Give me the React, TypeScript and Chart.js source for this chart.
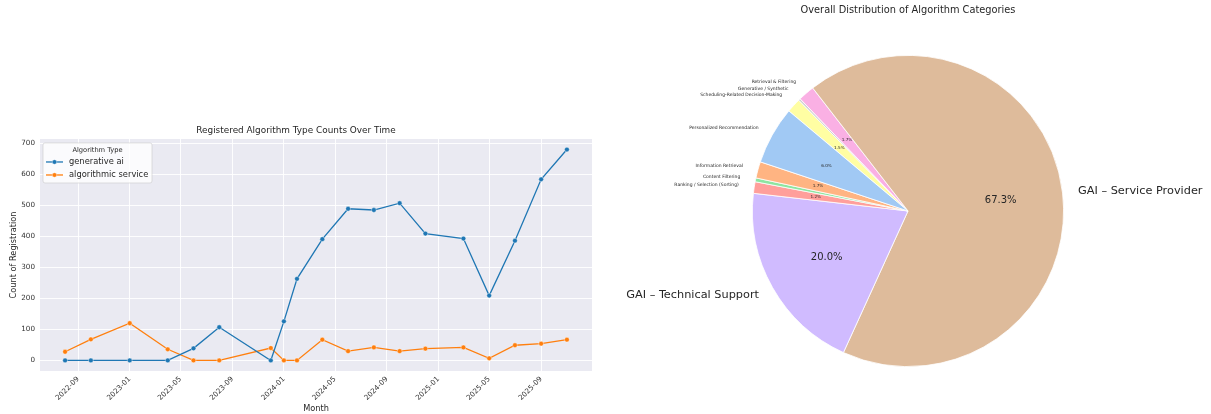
import React, { useEffect, useRef } from 'react';
import { Chart, registerables } from 'chart.js';

Chart.register(...registerables);

const FONT = "'DejaVu Sans', sans-serif";
const TEXT = '#262626';

// ---------- line chart data ----------
const months = ['2022-08', '2022-10', '2023-01', '2023-04', '2023-06', '2023-08', '2023-12', '2024-01', '2024-02', '2024-04', '2024-06', '2024-08', '2024-10', '2024-12', '2025-03', '2025-05', '2025-07', '2025-09', '2025-11'];
const generativeAi = [0, 0, 0, 0, 39, 107, 0, 126, 263, 391, 489, 485, 507, 409, 393, 209, 386, 584, 680];
const algorithmicService = [28, 68, 120, 36, 0, 0, 40, 0, 0, 67, 30, 42, 30, 38, 42, 7, 49, 54, 67];
const xTickMonths = ['2022-09', '2023-01', '2023-05', '2023-09', '2024-01', '2024-05', '2024-09', '2025-01', '2025-05', '2025-09'];
const yTickValues = [0, 100, 200, 300, 400, 500, 600, 700];
const seriesNames = ['generative ai', 'algorithmic service'];
const seriesColors = ['#1f77b4', '#ff7f0e'];
const lineTitle = 'Registered Algorithm Type Counts Over Time';
const legendTitle = 'Algorithm Type';

// ---------- pie chart data (matplotlib order, counter-clockwise) ----------
const pieCategories = ['Personalized Recommendation', 'Information Retrieval', 'Content Filtering', 'Ranking / Selection (Sorting)', 'GAI – Technical Support', 'GAI – Service Provider', 'Retrieval & Filtering', 'Generative / Synthetic', 'Scheduling-Related Decision-Making'];
const pieShares = [6.0, 1.7, 0.4, 1.2, 20.0, 67.3, 1.7, 0.2, 1.5];
const pieColors = ['#a1c9f4', '#ffb482', '#8de5a1', '#ff9f9b', '#d0bbff', '#debb9b', '#fab0e4', '#cfcfcf', '#fffea3'];
const pieTitle = 'Overall Distribution of Algorithm Categories';

function monthToDay(m: string): number {
  const [y, mo] = m.split('-').map(Number);
  return Date.UTC(y, mo - 1, 1) / 86400000;
}
function dayToMonth(d: number): string {
  const dt = new Date(Math.round(d) * 86400000);
  return `${dt.getUTCFullYear()}-${String(dt.getUTCMonth() + 1).padStart(2, '0')}`;
}

const plotBgPlugin = {
  id: 'plotBg',
  beforeDraw(chart: any) {
    const { ctx, chartArea: a } = chart;
    ctx.save();
    ctx.fillStyle = '#eaeaf2';
    ctx.fillRect(a.left, a.top, a.width, a.height);
    ctx.restore();
  },
};

const lineLegendPlugin = {
  id: 'lineLegend',
  afterDatasetsDraw(chart: any) {
    const { ctx, chartArea: a } = chart;
    const x0 = a.left + 3;
    const y0 = a.top + 4;
    const w = 109;
    const h = 40;
    ctx.save();
    ctx.beginPath();
    if ((ctx as any).roundRect) (ctx as any).roundRect(x0, y0, w, h, 2);
    else ctx.rect(x0, y0, w, h);
    ctx.fillStyle = 'rgba(255,255,255,0.8)';
    ctx.fill();
    ctx.strokeStyle = 'rgba(204,204,204,0.8)';
    ctx.lineWidth = 0.8;
    ctx.stroke();
    ctx.fillStyle = TEXT;
    ctx.font = `6.7px ${FONT}`;
    ctx.textAlign = 'center';
    ctx.textBaseline = 'middle';
    ctx.fillText(legendTitle, x0 + w / 2, y0 + 7);
    seriesNames.forEach((name, i) => {
      const yy = y0 + 19 + i * 13;
      ctx.strokeStyle = seriesColors[i];
      ctx.lineWidth = 1.3;
      ctx.beginPath();
      ctx.moveTo(x0 + 3, yy);
      ctx.lineTo(x0 + 20, yy);
      ctx.stroke();
      ctx.beginPath();
      ctx.arc(x0 + 11.5, yy, 2.3, 0, Math.PI * 2);
      ctx.fillStyle = seriesColors[i];
      ctx.fill();
      ctx.strokeStyle = '#fff';
      ctx.lineWidth = 0.4;
      ctx.stroke();
      ctx.fillStyle = TEXT;
      ctx.font = `8.3px ${FONT}`;
      ctx.textAlign = 'left';
      ctx.fillText(name, x0 + 26, yy);
    });
    ctx.restore();
  },
};

const pieLabelPlugin = {
  id: 'pieLabels',
  afterDatasetsDraw(chart: any) {
    const { ctx } = chart;
    const meta = chart.getDatasetMeta(0);
    const data = chart.data.datasets[0].data as number[];
    const labels = chart.data.labels as string[];
    const total = data.reduce((s, v) => s + v, 0);
    ctx.save();
    ctx.fillStyle = TEXT;
    ctx.textBaseline = 'middle';
    meta.data.forEach((arc: any, i: number) => {
      const { x, y, startAngle, endAngle, outerRadius } = arc.getProps(['x', 'y', 'startAngle', 'endAngle', 'outerRadius'], true);
      const mid = (startAngle + endAngle) / 2;
      const pct = (data[i] / total) * 100;
      const big = pct >= 10;
      const R = outerRadius;
      const lx = x + Math.cos(mid) * R * 1.1;
      const ly = y + Math.sin(mid) * R * 1.1;
      ctx.font = `${big ? 11.3 : 4.5}px ${FONT}`;
      ctx.textAlign = Math.cos(mid) >= 0 ? 'left' : 'right';
      ctx.fillText(labels[i], lx, ly);
      if (pct >= 1) {
        const px = x + Math.cos(mid) * R * 0.6;
        const py = y + Math.sin(mid) * R * 0.6;
        ctx.font = `${big ? 10 : 4.2}px ${FONT}`;
        ctx.textAlign = 'center';
        ctx.fillText(`${pct.toFixed(1)}%`, px, py);
      }
    });
    ctx.restore();
  },
};

function LineChart() {
  const ref = useRef<HTMLCanvasElement>(null);
  useEffect(() => {
    if (!ref.current) return;
    const xs = months.map(monthToDay);
    const first = xs[0];
    const last = xs[xs.length - 1];
    const span = last - first;
    const chart = new Chart(ref.current, {
      type: 'line',
      data: {
        datasets: [generativeAi, algorithmicService].map((vals, si) => ({
          label: seriesNames[si],
          data: vals.map((v, i) => ({ x: xs[i], y: v })),
          borderColor: seriesColors[si],
          backgroundColor: seriesColors[si],
          borderWidth: 1.3,
          pointRadius: 2.4,
          pointBackgroundColor: seriesColors[si],
          pointBorderColor: '#ffffff',
          pointBorderWidth: 0.4,
          tension: 0,
          fill: false,
        })),
      },
      options: {
        responsive: false,
        animation: false,
        layout: { padding: { left: 0, right: 8, top: 0, bottom: 0 } },
        plugins: {
          legend: { display: false },
          tooltip: { enabled: false },
          title: {
            display: true,
            text: lineTitle,
            color: TEXT,
            font: { family: FONT, size: 8.9, weight: 'normal' as any },
            padding: { top: 125.6, bottom: 2.7 },
          },
        },
        scales: {
          x: {
            type: 'linear',
            min: first - 0.05 * span,
            max: last + 0.05 * span,
            border: { display: false },
            grid: { color: '#ffffff', lineWidth: 0.9, drawTicks: false },
            afterBuildTicks(scale: any) {
              scale.ticks = xTickMonths.map((m) => ({ value: monthToDay(m) }));
            },
            afterFit(scale: any) {
              scale.height = 43;
            },
            ticks: {
              autoSkip: false,
              minRotation: 45,
              maxRotation: 45,
              padding: 4,
              color: '#333333',
              font: { family: FONT, size: 7.2 },
              callback: (v: any) => dayToMonth(Number(v)),
            },
            title: {
              display: true,
              text: 'Month',
              color: TEXT,
              font: { family: FONT, size: 8.2 },
              padding: { top: 0, bottom: 0 },
            },
          },
          y: {
            type: 'linear',
            min: -34,
            max: 714,
            border: { display: false },
            grid: { color: '#ffffff', lineWidth: 0.9, drawTicks: false },
            afterBuildTicks(scale: any) {
              scale.ticks = yTickValues.map((v) => ({ value: v }));
            },
            afterFit(scale: any) {
              scale.width = 40;
            },
            ticks: {
              padding: 5,
              color: '#333333',
              font: { family: FONT, size: 7.2 },
            },
            title: {
              display: true,
              text: 'Count of Registration',
              color: TEXT,
              font: { family: FONT, size: 8.2 },
              padding: { top: 9, bottom: 0 },
            },
          },
        },
      },
      plugins: [plotBgPlugin, lineLegendPlugin],
    } as any);
    return () => chart.destroy();
  }, []);
  return <canvas ref={ref} width={600} height={414} style={{ position: 'absolute', left: 0, top: 0 }} />;
}

function PieChart() {
  const ref = useRef<HTMLCanvasElement>(null);
  useEffect(() => {
    if (!ref.current) return;
    // Chart.js draws clockwise; matplotlib drew counter-clockwise from 140°.
    const labels = [...pieCategories].reverse();
    const values = [...pieShares].reverse();
    const colors = [...pieColors].reverse();
    const chart = new Chart(ref.current, {
      type: 'pie',
      data: {
        labels,
        datasets: [
          {
            data: values,
            backgroundColor: colors,
            borderColor: '#ffffff',
            borderWidth: 0.8,
          },
        ],
      },
      options: {
        responsive: false,
        animation: false,
        rotation: -50,
        layout: { padding: { left: 152, right: 147, top: 0, bottom: 47 } },
        plugins: {
          legend: { display: false },
          tooltip: { enabled: false },
          title: {
            display: true,
            text: pieTitle,
            color: TEXT,
            font: { family: FONT, size: 9.8, weight: 'normal' as any },
            padding: { top: 4.1, bottom: 39.1 },
          },
        },
      },
      plugins: [pieLabelPlugin],
    } as any);
    return () => chart.destroy();
  }, []);
  return <canvas ref={ref} width={611} height={414} style={{ position: 'absolute', left: 600, top: 0 }} />;
}

export default function App() {
  return (
    <div style={{ position: 'fixed', left: 0, top: 0, width: 1211, height: 414, background: '#ffffff', overflow: 'hidden' }}>
      <LineChart />
      <PieChart />
    </div>
  );
}
